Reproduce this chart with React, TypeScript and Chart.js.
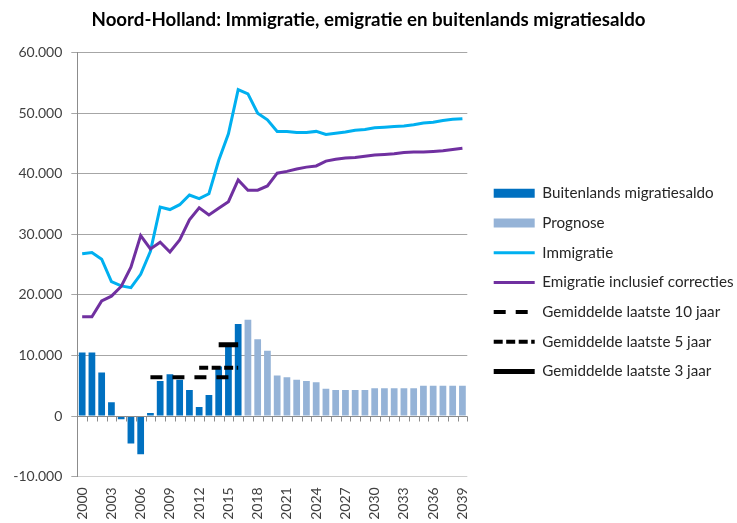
import React, { useEffect, useRef } from "react";
import { Chart, registerables } from "chart.js";

Chart.register(...registerables);

const TITLE = "Noord-Holland: Immigratie, emigratie en buitenlands migratiesaldo";

const years = [
  "2000", "2001", "2002", "2003", "2004", "2005", "2006", "2007", "2008", "2009",
  "2010", "2011", "2012", "2013", "2014", "2015", "2016", "2017", "2018", "2019",
  "2020", "2021", "2022", "2023", "2024", "2025", "2026", "2027", "2028", "2029",
  "2030", "2031", "2032", "2033", "2034", "2035", "2036", "2037", "2038", "2039",
];

// Buitenlands migratiesaldo 2000-2016 (waargenomen)
const saldoHistorisch = [
  10500, 10500, 7200, 2300, -500, -4500, -6300, 500, 5800, 6900,
  6000, 4300, 1500, 3500, 8200, 11900, 15200,
];

// Prognose 2017-2039
const saldoPrognose = [
  15900, 12700, 10800, 6700, 6400, 6000, 5800, 5600, 4500, 4300,
  4300, 4300, 4300, 4600, 4600, 4600, 4600, 4600, 5000, 5000,
  5000, 5000, 5000,
];

const immigratie = [
  26800, 27000, 25900, 22200, 21500, 21200, 23400, 27200, 34500, 34100,
  34900, 36500, 35900, 36700, 42200, 46600, 53900, 53200, 50000, 48900,
  47000, 47000, 46800, 46800, 47000, 46500, 46700, 46900, 47200, 47300,
  47600, 47700, 47800, 47900, 48100, 48400, 48500, 48800, 49000, 49100,
];

const emigratie = [
  16400, 16400, 19000, 19800, 21400, 24600, 29800, 27600, 28700, 27100,
  29100, 32400, 34400, 33200, 34300, 35400, 39000, 37300, 37300, 38000,
  40100, 40400, 40800, 41100, 41300, 42100, 42400, 42600, 42700, 42900,
  43100, 43200, 43300, 43500, 43600, 43600, 43700, 43800, 44000, 44200,
];

// Gemiddelden (waarde, eerste jaar, laatste jaar)
const gem10Waarde = 6400;
const gem10Jaren = ["2007", "2016"];
const gem5Waarde = 8000;
const gem5Jaren = ["2012", "2016"];
const gem3Waarde = 11800;
const gem3Jaren = ["2014", "2016"];

const yTicks = [-10000, 0, 10000, 20000, 30000, 40000, 50000, 60000];

const FONT = "Lato, 'Open Sans', sans-serif";

function fmt(v: number): string {
  const neg = v < 0;
  const s = String(Math.abs(v)).replace(/\B(?=(\d{3})+(?!\d))/g, ".");
  return (neg ? "-" : "") + s;
}

function rangeSeries(value: number, range: string[]) {
  const a = years.indexOf(range[0]);
  const b = years.indexOf(range[1]);
  return years.map((_, i) => (i >= a && i <= b ? value : null));
}

const zeroAxisPlugin = {
  id: "zeroAxis",
  afterDatasetsDraw(chart: any) {
    const { ctx } = chart;
    const x = chart.scales.x;
    const y = chart.scales.y;
    const y0 = Math.round(y.getPixelForValue(0)) + 0.5;
    const n = chart.data.labels.length;
    const step = x.getPixelForValue(1) - x.getPixelForValue(0);
    ctx.save();
    ctx.strokeStyle = "#8C8C8C";
    ctx.lineWidth = 1;
    ctx.beginPath();
    ctx.moveTo(x.left, y0);
    ctx.lineTo(x.right, y0);
    for (let i = 0; i <= n; i++) {
      const px = Math.round(x.getPixelForValue(0) - step / 2 + i * step) + 0.5;
      ctx.moveTo(px, y0);
      ctx.lineTo(px, y0 + 5);
    }
    ctx.stroke();
    ctx.restore();
  },
};

export default function App() {
  const ref = useRef<HTMLCanvasElement | null>(null);

  useEffect(() => {
    if (!ref.current) return;
    const nHist = saldoHistorisch.length;
    const saldoData = years.map((_, i) => (i < nHist ? saldoHistorisch[i] : null));
    const prognoseData = years.map((_, i) => (i >= nHist ? saldoPrognose[i - nHist] : null));

    const chart = new Chart(ref.current, {
      data: {
        labels: years,
        datasets: [
          {
            type: "bar",
            label: "Buitenlands migratiesaldo",
            data: saldoData,
            backgroundColor: "#0070C0",
            grouped: false,
            barPercentage: 0.69,
            categoryPercentage: 1,
            order: 5,
          } as any,
          {
            type: "bar",
            label: "Prognose",
            data: prognoseData,
            backgroundColor: "#95B3D7",
            grouped: false,
            barPercentage: 0.69,
            categoryPercentage: 1,
            order: 5,
          } as any,
          {
            type: "line",
            label: "Immigratie",
            data: immigratie,
            borderColor: "#00B0F0",
            backgroundColor: "#00B0F0",
            borderWidth: 3,
            pointRadius: 0,
            tension: 0,
            order: 4,
          },
          {
            type: "line",
            label: "Emigratie inclusief correcties",
            data: emigratie,
            borderColor: "#7030A0",
            backgroundColor: "#7030A0",
            borderWidth: 3,
            pointRadius: 0,
            tension: 0,
            order: 3,
          },
          {
            type: "line",
            label: "Gemiddelde laatste 10 jaar",
            data: rangeSeries(gem10Waarde, gem10Jaren),
            borderColor: "#000000",
            backgroundColor: "#000000",
            borderWidth: 4,
            borderDash: [12, 10],
            pointRadius: 0,
            order: 2,
          },
          {
            type: "line",
            label: "Gemiddelde laatste 5 jaar",
            data: rangeSeries(gem5Waarde, gem5Jaren),
            borderColor: "#000000",
            backgroundColor: "#000000",
            borderWidth: 4,
            borderDash: [9, 3.5],
            pointRadius: 0,
            order: 1,
          },
          {
            type: "line",
            label: "Gemiddelde laatste 3 jaar",
            data: rangeSeries(gem3Waarde, gem3Jaren),
            borderColor: "#000000",
            backgroundColor: "#000000",
            borderWidth: 5,
            pointRadius: 0,
            order: 0,
          },
        ],
      },
      options: {
        animation: false,
        responsive: false,
        maintainAspectRatio: false,
        layout: { padding: { top: 0, left: 0, right: 0, bottom: 0 } },
        plugins: {
          title: {
            display: true,
            text: TITLE,
            color: "#000000",
            font: { family: FONT, size: 18.7, weight: "bold" },
            padding: { top: 8.7, bottom: 21.5 },
          },
          legend: {
            position: "right",
            align: "center",
            maxWidth: 257.8,
            title: {
              display: true,
              text: " ",
              font: { family: FONT, size: 10, lineHeight: 1.2 },
              padding: { top: 14.9, bottom: 14.9 },
            },
            labels: {
              usePointStyle: true,
              pointStyleWidth: 41,
              boxHeight: 9,
              padding: 14.5,
              color: "#262626",
              font: { family: FONT, size: 15.2 },
              generateLabels: (c: any) =>
                c.data.datasets.map((ds: any, i: number) => {
                  const isBar = ds.type === "bar";
                  return {
                    text: ds.label,
                    datasetIndex: i,
                    fillStyle: isBar ? ds.backgroundColor : "rgba(0,0,0,0)",
                    strokeStyle: isBar ? ds.backgroundColor : ds.borderColor,
                    lineWidth: isBar ? 0 : ds.borderWidth,
                    lineDash: ds.borderDash || [],
                    lineCap: "butt",
                    pointStyle: isBar ? "rect" : "line",
                    hidden: false,
                    fontColor: "#262626",
                  };
                }),
            },
          },
          tooltip: { enabled: false },
        },
        scales: {
          x: {
            grid: { display: false, drawTicks: false },
            border: { display: false },
            ticks: {
              autoSkip: false,
              maxRotation: 90,
              minRotation: 90,
              padding: 10.6,
              color: "#404040",
              font: { family: FONT, size: 14 },
              callback: function (this: any, value: any, index: number) {
                return index % 3 === 0 ? years[index] : "";
              },
            },
            afterFit: (s: any) => {
              s.height = 46.3;
            },
          },
          y: {
            min: -10000,
            max: 60000,
            afterBuildTicks: (s: any) => {
              s.ticks = yTicks.map((v) => ({ value: v }));
            },
            ticks: {
              padding: 9,
              color: "#404040",
              font: { family: FONT, size: 14 },
              callback: (v: any) => fmt(Number(v)),
            },
            grid: {
              color: (ctx: any) =>
                ctx.tick && ctx.tick.value === -10000 ? "#D0D0D0" : "#A6A6A6",
              tickLength: 6,
              tickColor: "#A6A6A6",
            },
            border: { color: "#8C8C8C" },
            afterFit: (s: any) => {
              s.width = 77.3;
            },
          },
          y2: {
            position: "right",
            display: true,
            grid: { display: false, drawTicks: false },
            border: { display: false },
            ticks: { display: false },
            afterFit: (s: any) => {
              s.width = 11.9;
            },
          },
        },
      } as any,
      plugins: [zeroAxisPlugin],
    });
    return () => chart.destroy();
  }, []);

  return (
    <div style={{ position: "absolute", left: 0, top: 0, width: 737, height: 523, background: "#fff" }}>
      <canvas ref={ref} width={737} height={523} style={{ width: 737, height: 523 }} />
    </div>
  );
}
